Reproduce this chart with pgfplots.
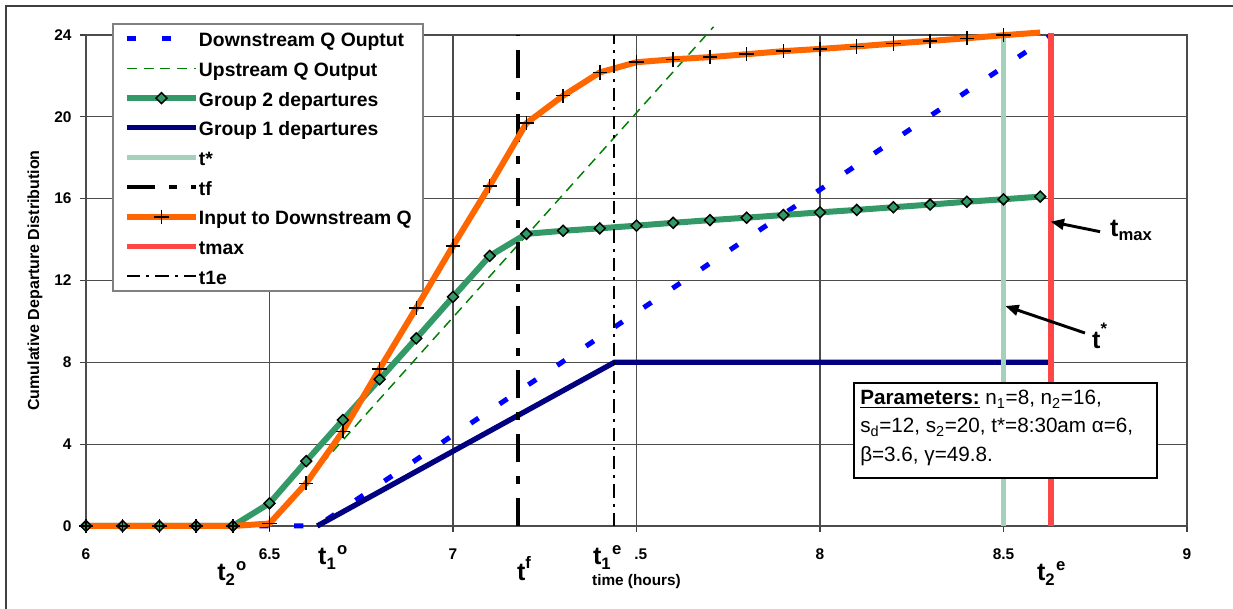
\documentclass[border=0pt]{standalone}
\usepackage{fontspec}
\setmainfont{Liberation Sans}
\usepackage{pgfplots}
\pgfplotsset{compat=1.18}
\usetikzlibrary{arrows.meta}

\definecolor{qblue}{RGB}{0,0,255}
\definecolor{qnavy}{RGB}{0,0,128}
\definecolor{qgreen}{RGB}{0,128,0}
\definecolor{seagrn}{RGB}{51,153,102}
\definecolor{qorange}{RGB}{255,102,0}
\definecolor{qred}{RGB}{255,0,0}

% series styles
\pgfplotsset{
  downq/.style={qblue, line width=3.75pt, dash pattern=on 7pt off 19pt},
  upq/.style={qgreen, line width=1.1pt, dash pattern=on 7.5pt off 5pt},
  grptwo/.style={seagrn, line width=4.5pt, mark=square*, mark size=2.9pt,
     mark options={rotate=45, fill=seagrn, draw=black, line width=1.1pt, solid}},
  grpone/.style={qnavy, line width=4pt},
  tstar/.style={seagrn!45!white, line width=3.4pt},
  tfl/.style={black, line width=3pt, dash pattern=on 21pt off 10.5pt on 6pt off 10.5pt},
  inq/.style={qorange, line width=4.5pt, mark=+, mark size=5.4pt,
     mark options={black, line width=1.1pt, solid}},
  tmx/.style={qred!72!white, line width=4.2pt},
  toe/.style={black, line width=1.5pt, dash pattern=on 10pt off 4.5pt on 2.25pt off 4.5pt},
}

\newcommand{\bigt}{\fontsize{18.75pt}{20pt}\selectfont\bfseries}
\newcommand{\smallt}{\fontsize{12.5pt}{13pt}\selectfont\bfseries}
\newcommand{\tl}[2]{t\raisebox{-3.75pt}{\smallt #1}\kern1pt\raisebox{7.5pt}{\smallt #2}}

% cumulative departures, group 2
\pgfplotstableread{
x y
6.0 0
6.1 0
6.2 0
6.3 0
6.4 0
6.5 1.11
6.6 3.17
6.7 5.18
6.8 7.17
6.9 9.17
7.0 11.2
7.1 13.2
7.2 14.28
7.3 14.43
7.4 14.55
7.5 14.68
7.6 14.82
7.7 14.95
7.8 15.07
7.9 15.20
8.0 15.33
8.1 15.45
8.2 15.58
8.3 15.71
8.4 15.85
8.5 15.97
8.6 16.10
}\grouptwo

% input to the downstream queue
\pgfplotstableread{
x y
6.0 0
6.1 0
6.2 0
6.3 0
6.4 0
6.5 0.12
6.6 2.09
6.7 4.63
6.8 7.68
6.9 10.66
7.0 13.69
7.1 16.63
7.2 19.69
7.3 21.03
7.4 22.17
7.5 22.67
7.6 22.81
7.7 22.92
7.8 23.06
7.9 23.21
8.0 23.32
8.1 23.44
8.2 23.58
8.3 23.71
8.4 23.84
8.5 23.99
8.6 24.12
}\inputq

\begin{document}
\begin{tikzpicture}
\useasboundingbox (0pt,0pt) rectangle (924.75pt,456.75pt);
\draw[black!75, line width=1.2pt] (4.5pt,-20pt) -- (4.5pt,452.25pt) -- (950pt,452.25pt);
\begin{axis}[
  at={(64.5pt,62.25pt)}, anchor=south west,
  scale only axis, width=825.75pt, height=368.25pt,
  xmin=6, xmax=9, ymin=0, ymax=24,
  clip=false,
  xtick={6,6.5,7,7.5,8,8.5,9},
  xticklabels={6,6.5,7,\phantom{7}.5,8,8.5,9},
  ytick={0,4,8,12,16,20,24},
  yticklabels={0,4,8,12,16,20,24},
  tick pos=left, tick align=outside,
  major tick length=4.5pt,
  every tick/.style={black!75, line width=0.8pt},
  grid=major,
  major grid style={black!70, line width=0.8pt},
  axis line style={black!70, line width=1.3pt},
  xticklabel style={font=\bfseries\fontsize{11.6pt}{12pt}\selectfont, anchor=center, inner sep=0pt, yshift=-16.5pt},
  yticklabel style={font=\bfseries\fontsize{11.6pt}{12pt}\selectfont, anchor=east, inner sep=0pt, xshift=-6.2pt},
  xlabel={time (hours)},
  xlabel style={font=\bfseries\fontsize{11.5pt}{12pt}\selectfont, at={(axis description cs:0.5,-0.1141)}, anchor=center},
  ylabel={Cumulative Departure Distribution},
  ylabel style={font=\bfseries\fontsize{12pt}{13pt}\selectfont, at={(axis description cs:-0.04632,0.5)}, anchor=center},
  legend cell align=left,
  legend style={at={(rel axis cs:0.02361,1.02444)}, anchor=north west,
    draw=black!50, line width=1.5pt, fill=white,
    font=\bfseries\fontsize{14.5pt}{16pt}\selectfont,
    inner xsep=8.25pt, inner ysep=0pt, row sep=0pt,
    nodes={inner sep=0pt, text height=17.25pt, text depth=5pt},
    /tikz/every even column/.append style={column sep=1.5pt}},
  legend image code/.code={\draw[mark repeat=2,mark phase=2,#1] plot coordinates {(0pt,0pt) (25.875pt,0pt) (51.75pt,0pt)};},
]
% legend entries
\addlegendimage{downq}\addlegendentry{Downstream Q Ouptut}
\addlegendimage{upq}\addlegendentry{Upstream Q Output}
\addlegendimage{grptwo}\addlegendentry{Group 2 departures}
\addlegendimage{grpone}\addlegendentry{Group 1 departures}
\addlegendimage{tstar}\addlegendentry{t*}
\addlegendimage{tfl}\addlegendentry{tf}
\addlegendimage{inq}\addlegendentry{Input to Downstream Q}
\addlegendimage{tmx}\addlegendentry{tmax}
\addlegendimage{toe}\addlegendentry{t1e}

% series
\addplot[downq, forget plot] coordinates {(6.0,0) (6.63,0) (8.63,24)};
\addplot[upq, forget plot] coordinates {(6.49,0) (7.71,24.4)};
\addplot[grptwo, forget plot] table {\grouptwo};
\addplot[grpone, forget plot] coordinates {(6.63,0) (7.44,8) (8.63,8)};
\addplot[tstar, forget plot] coordinates {(8.5,0) (8.5,24)};
\addplot[tfl, forget plot] coordinates {(7.177,0) (7.177,24)};
\addplot[qorange, line width=4.5pt, forget plot] table {\inputq};
\addplot[inq, only marks, forget plot, restrict x to domain=6:8.55] table {\inputq};
\addplot[tmx, forget plot] coordinates {(8.63,0) (8.63,24.1)};
\addplot[toe, forget plot] coordinates {(7.44,0) (7.44,24)};

% time labels under the axis
\node[anchor=base west, inner sep=0pt, font=\bigt] at (axis cs:6.357,-2.64) {\tl{2}{o}};
\node[anchor=base west, inner sep=0pt, font=\bigt] at (axis cs:6.632,-1.906) {\tl{1}{o}};
\node[anchor=base west, inner sep=0pt, font=\bigt] at (axis cs:7.174,-2.64) {t\raisebox{8.5pt}{\smallt f}};
\node[anchor=base west, inner sep=0pt, font=\bigt] at (axis cs:7.381,-1.906) {\tl{1}{e}};
\node[anchor=base west, inner sep=0pt, font=\bigt] at (axis cs:8.591,-2.64) {\tl{2}{e}};

% callouts
\draw[-{Triangle[length=10pt,width=8pt]}, line width=2.2pt] (axis cs:8.763,14.386) -- (axis cs:8.6286,14.875);
\node[anchor=base west, inner sep=0pt, font=\bigt] at (axis cs:8.790,14.13) {t\raisebox{-3pt}{\smallt max}};
\draw[-{Triangle[length=10pt,width=8pt]}, line width=2.2pt] (axis cs:8.722,9.434) -- (axis cs:8.505,10.754);
\node[anchor=base west, inner sep=0pt, font=\bigt] at (axis cs:8.741,8.70) {t\raisebox{10pt}{\smallt *}};

% parameter box
\draw[black, line width=1.5pt, fill=white] (axis cs:8.0926,6.99) rectangle (axis cs:8.918,2.346);
\begin{scope}[every node/.style={anchor=base west, inner sep=0pt, font=\fontsize{15.5pt}{17pt}\selectfont}]
\node at (axis cs:8.109,5.915) {\textbf{\underline{Parameters:}} n\textsubscript{1}=8, n\textsubscript{2}=16,};
\node at (axis cs:8.109,4.546) {s\textsubscript{d}=12, s\textsubscript{2}=20, t*=8:30am α=6,};
\node at (axis cs:8.109,3.128) {β=3.6, γ=49.8.};
\end{scope}
\end{axis}
\end{tikzpicture}
\end{document}
